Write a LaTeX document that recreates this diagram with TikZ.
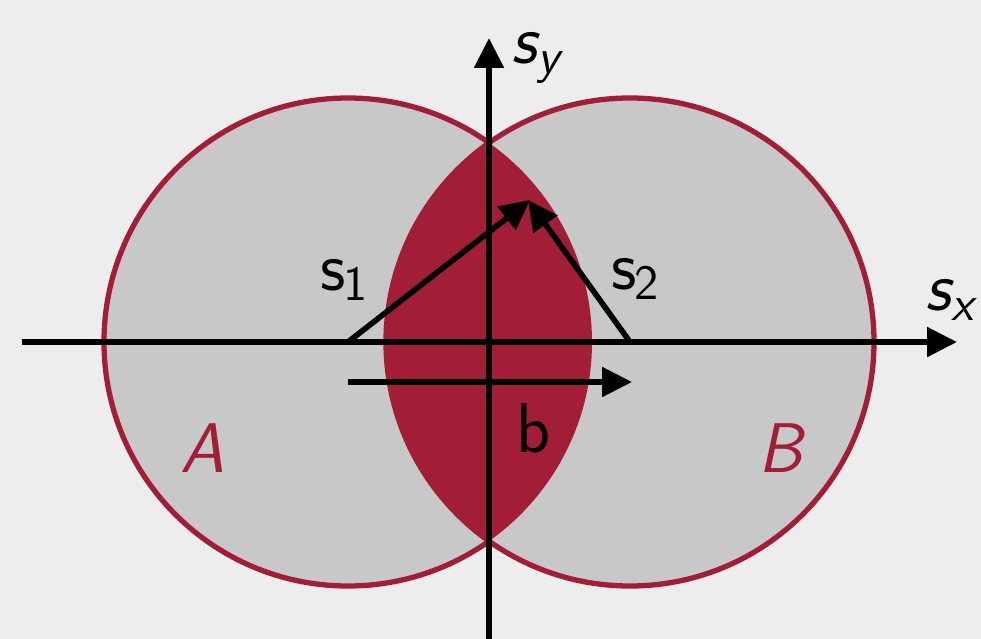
\documentclass[tikz,border=0pt]{standalone}
\usepackage{fontspec}
\usetikzlibrary{arrows.meta}
\definecolor{bgc}{HTML}{EDEDED}
\definecolor{setgray}{HTML}{C8C8C8}
\definecolor{crim}{RGB}{162,29,54}
\newcommand\mysub[1]{\kern-0.8pt\raisebox{-2.9pt}{\fontsize{14}{14}\selectfont #1}}
\tikzset{
  lbl/.style={font=\fontsize{20}{24}\selectfont\sffamily, inner sep=0pt, anchor=base west},
  setlbl/.style={lbl, text=crim, font=\fontsize{20}{24}\selectfont\sffamily\itshape},
  axis/.style={line width=1.6pt, -{Triangle[length=8.5pt,width=8.2pt]}},
  vec/.style={line width=1.6pt, -{Triangle[length=8.5pt,width=8.2pt]}},
  circ/.style={fill=setgray, draw=crim, line width=1.5pt}
}
\begin{document}
\begin{tikzpicture}[x=0.01cm,y=-0.01cm]
\fill[bgc] (0,0) rectangle (981,639);
\useasboundingbox (0,0) rectangle (981,639);
\coordinate (cA) at (348,342);
\coordinate (cB) at (630,342);
\coordinate (tip) at (530,200);
\coordinate (tip2) at (528,200);
\coordinate (xl) at (22,342);
\coordinate (xr) at (957,342);
\coordinate (yb) at (489,639);
\coordinate (yt) at (489,38);
\coordinate (bs) at (348,382);
\coordinate (be) at (632,382);
\draw[circ] (cA) circle[radius=244];
\draw[circ] (cB) circle[radius=244];
\begin{scope}
\clip (cA) circle[radius=244];
\fill[crim] (cB) circle[radius=244];
\end{scope}
\draw[axis] (xl) -- (xr);
\draw[axis] (yb) -- (yt);
\draw[vec] (cA) -- (tip);
\draw[vec] (cB) -- (tip2);
\draw[vec] (bs) -- (be);
\node[lbl] (sy) at (511,63) {\textit{s}\mysub{\textit{y}}};
\node[lbl] (sx) at (925,310) {\textit{s}\mysub{\textit{x}}};
\node[lbl] (s1) at (320,290) {s\mysub{1}};
\node[lbl] (s2) at (611,289) {s\mysub{2}};
\node[lbl] (b) at (516,452) {b};
\node[setlbl] (A) at (180,472) {A};
\node[setlbl] (B) at (758,472) {B};
\end{tikzpicture}
\end{document}
